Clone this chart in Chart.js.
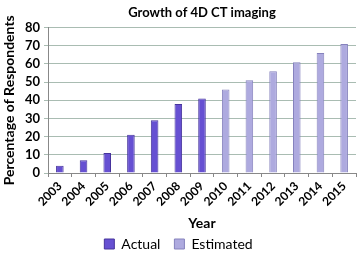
<!DOCTYPE html>
<html>
<head>
<meta charset="utf-8">
<script src="https://cdn.jsdelivr.net/npm/chart.js@4"></script>
<style>
  html, body { margin: 0; padding: 0; background: #fff; }
  #wrap { width: 360px; height: 253px; }
</style>
</head>
<body>
<div id="wrap"><canvas id="c"></canvas></div>
<script>
const years = ["2003","2004","2005","2006","2007","2008","2009","2010","2011","2012","2013","2014","2015"];
const actual = [4, 7, 11, 21, 29, 38, 41, null, null, null, null, null, null];
const estimated = [null, null, null, null, null, null, null, 46, 51, 56, 61, 66, 71];

const font = "Lato, 'Open Sans', sans-serif";

new Chart(document.getElementById("c"), {
  type: "bar",
  data: {
    labels: years,
    datasets: [
      {
        label: "Actual",
        data: actual,
        backgroundColor: "#6650d2",
        borderColor: "#46349c",
        borderWidth: 1,
        barPercentage: 0.32,
        categoryPercentage: 1
      },
      {
        label: "Estimated",
        data: estimated,
        backgroundColor: "#aeaadf",
        borderColor: "#8682bd",
        borderWidth: 1,
        barPercentage: 0.32,
        categoryPercentage: 1
      }
    ]
  },
  options: {
    responsive: true,
    maintainAspectRatio: false,
    animation: false,
    layout: { padding: { left: 1, right: 4, top: 0, bottom: -8 } },
    plugins: {
      title: {
        display: true,
        fullSize: false,
        text: "Growth of 4D CT imaging",
        color: "#000",
        font: { family: font, size: 13, weight: "bold" },
        padding: { top: 5, bottom: 7 }
      },
      legend: {
        position: "bottom",
        labels: {
          color: "#000",
          font: { family: font, size: 14 },
          boxWidth: 10,
          boxHeight: 10,
          padding: 14
        }
      },
      tooltip: { enabled: false }
    },
    scales: {
      x: {
        stacked: true,
        grid: { display: true, drawOnChartArea: false, offset: true, color: "#888", tickLength: 4 },
        border: { color: "#888" },
        ticks: {
          color: "#000",
          autoSkip: false,
          maxRotation: 45,
          minRotation: 45,
          padding: 2,
          font: { family: font, size: 12, weight: "bold" }
        },
        title: {
          display: true,
          text: "Year",
          color: "#000",
          padding: { top: 0, bottom: -9 },
          font: { family: font, size: 14, weight: "bold" }
        },
        afterFit: (axis) => { axis.height = 50; }
      },
      y: {
        stacked: false,
        min: 0,
        max: 80,
        ticks: {
          stepSize: 10,
          autoSkip: false,
          color: "#000",
          padding: 4,
          font: { family: font, size: 13, weight: "bold" }
        },
        grid: { color: "#a9bcb2", tickLength: 4 },
        border: { color: "#888" },
        title: {
          display: true,
          text: "Percentage of Respondents",
          color: "#000",
          padding: { top: 0, bottom: 0 },
          font: { family: font, size: 14, weight: "bold" }
        },
        afterFit: (axis) => { axis.width = 47; }
      }
    }
  }
});
</script>
</body>
</html>
